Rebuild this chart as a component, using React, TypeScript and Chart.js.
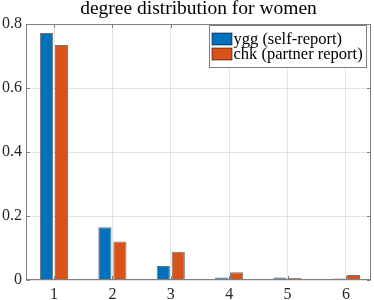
import React, { useEffect, useRef } from 'react';
import { Chart, registerables } from 'chart.js';

Chart.register(...registerables);

// ---- data ----
const categories = [1, 2, 3, 4, 5, 6];
const selfReport = [0.772, 0.165, 0.044, 0.008, 0.008, 0.005];
const partnerReport = [0.734, 0.12, 0.088, 0.024, 0.006, 0.016];
const yTickValues = [0, 0.2, 0.4, 0.6, 0.8];
const yTickLabels = ['0', '0.2', '0.4', '0.6', '0.8'];
const seriesLabels = ['ygg (self-report)', 'chk (partner report)'];
const seriesColors = ['#0072BD', '#D95319'];
const titleText = 'degree distribution for women';

// ---- styles ----
const FONT = '"Liberation Serif", serif';
const AXIS_COLOR = '#7f7f7f';
const TEXT_COLOR = '#262626';
const GRID_COLOR = 'rgba(38,38,38,0.12)';
const EDGE_COLOR = 'rgba(0,0,0,0.55)';

const framePlugin = {
  id: 'matlabFrame',
  afterDatasetsDraw(chart: any) {
    const { ctx, chartArea: a, scales } = chart;
    ctx.save();
    ctx.strokeStyle = AXIS_COLOR;
    ctx.lineWidth = 1;
    const L = Math.round(a.left) + 0.5;
    const R = Math.round(a.right) - 0.5;
    const T = Math.round(a.top) + 0.5;
    const B = Math.round(a.bottom) - 0.5;
    ctx.strokeRect(L, T, R - L, B - T);
    const tl = 3.5;
    ctx.beginPath();
    categories.forEach((c) => {
      const px = Math.round(scales.x.getPixelForValue(c)) + 0.5;
      ctx.moveTo(px, B);
      ctx.lineTo(px, B - tl);
      ctx.moveTo(px, T);
      ctx.lineTo(px, T + tl);
    });
    yTickValues.forEach((v) => {
      const py = Math.round(scales.y.getPixelForValue(v)) + 0.5;
      ctx.moveTo(L, py);
      ctx.lineTo(L + tl, py);
      ctx.moveTo(R, py);
      ctx.lineTo(R - tl, py);
    });
    ctx.stroke();
    ctx.restore();
  },
  afterDraw(chart: any) {
    const { ctx, chartArea: a } = chart;
    ctx.save();
    // title
    ctx.fillStyle = '#000';
    ctx.font = `19.5px ${FONT}`;
    ctx.textAlign = 'center';
    ctx.textBaseline = 'alphabetic';
    ctx.fillText(titleText, (a.left + a.right) / 2, 13.5);

    // legend
    const lw = 157;
    const lh = 42;
    const lx = Math.round(a.right - 5 - lw) + 0.5;
    const ly = Math.round(a.top + 1) + 0.5;
    ctx.fillStyle = '#fff';
    ctx.fillRect(lx, ly, lw, lh);
    ctx.strokeStyle = AXIS_COLOR;
    ctx.lineWidth = 1;
    ctx.strokeRect(lx, ly, lw, lh);
    ctx.font = `16.5px ${FONT}`;
    ctx.textAlign = 'left';
    ctx.textBaseline = 'middle';
    chart.data.datasets.forEach((ds: any, i: number) => {
      const sy = ly + 7.5 + i * 15;
      ctx.fillStyle = ds.backgroundColor;
      ctx.fillRect(lx + 2.5, sy, 20, 12);
      ctx.strokeStyle = EDGE_COLOR;
      ctx.strokeRect(lx + 2.5, sy, 20, 12);
      ctx.fillStyle = '#000';
      ctx.fillText(ds.label, lx + 24, sy + 6.5);
    });
    ctx.restore();
  },
};

export default function App() {
  const ref = useRef<HTMLCanvasElement>(null);
  useEffect(() => {
    document.body.style.margin = '0';
    let chart: Chart | null = null;
    let cancelled = false;
    const build = () => {
      if (cancelled || !ref.current) return;
      const datasets = [selfReport, partnerReport].map((vals, k) => ({
        label: seriesLabels[k],
        data: categories.map((c, i) => ({ x: c, y: vals[i] })),
        backgroundColor: seriesColors[k],
        borderColor: EDGE_COLOR,
        borderWidth: 1,
        categoryPercentage: 0.513,
        barPercentage: 0.88,
      }));
      chart = new Chart(ref.current, {
        type: 'bar',
        data: { datasets } as any,
        options: {
          responsive: false,
          animation: false,
          devicePixelRatio: 1,
          layout: { padding: { top: 24, right: 3, left: 0, bottom: 0 } },
          plugins: {
            legend: { display: false },
            title: { display: false },
            tooltip: { enabled: false },
          },
          scales: {
            x: {
              type: 'linear',
              min: 0.52,
              max: 6.43,
              offset: false,
              grid: { color: GRID_COLOR, drawTicks: false, offset: false },
              border: { display: false },
              ticks: {
                stepSize: 1,
                includeBounds: false,
                padding: 5,
                color: TEXT_COLOR,
                font: { family: FONT, size: 16 },
                callback: (v: any) => String(v),
              },
              afterFit: (s: any) => {
                s.height = 20;
              },
            },
            y: {
              min: 0,
              max: 0.8,
              grid: { color: GRID_COLOR, drawTicks: false },
              border: { display: false },
              ticks: {
                stepSize: 0.2,
                padding: 4,
                color: TEXT_COLOR,
                font: { family: FONT, size: 16 },
                callback: (v: any) => {
                  const i = yTickValues.findIndex((t) => Math.abs(t - Number(v)) < 1e-9);
                  return i >= 0 ? yTickLabels[i] : '';
                },
              },
              afterFit: (s: any) => {
                s.width = 26;
              },
            },
          },
        } as any,
        plugins: [framePlugin],
      });
    };
    const fonts = (document as any).fonts;
    if (fonts && fonts.load) {
      Promise.all([
        fonts.load('16px "Liberation Serif"'),
        fonts.load('20px "Liberation Serif"'),
      ])
        .catch(() => null)
        .then(build);
    } else {
      build();
    }
    return () => {
      cancelled = true;
      if (chart) chart.destroy();
    };
  }, []);
  return (
    <div style={{ width: 374, height: 300 }}>
      <canvas ref={ref} width={374} height={300} style={{ display: 'block' }} />
    </div>
  );
}
